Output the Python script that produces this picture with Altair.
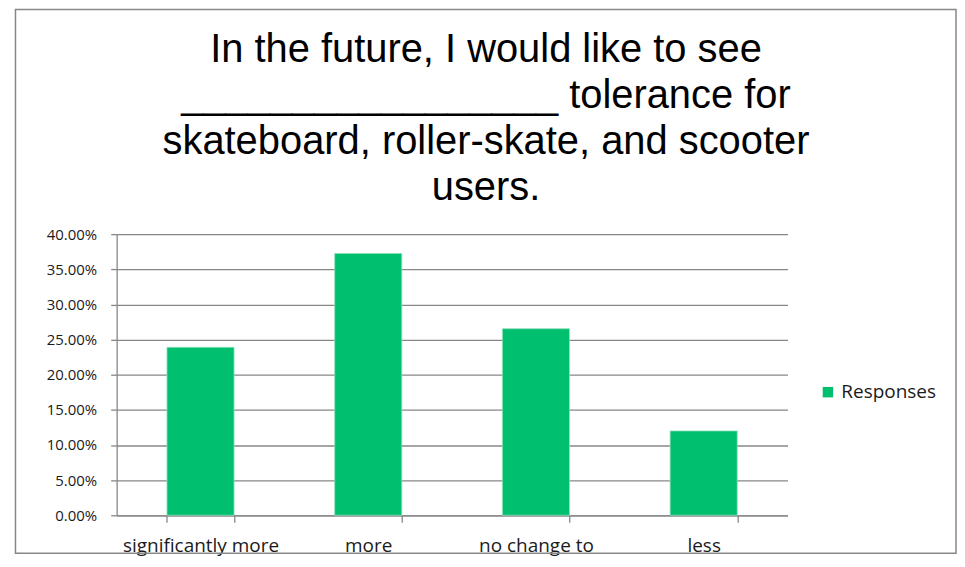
import altair as alt
import pandas as pd

categories = ["significantly more", "more", "no change to", "less"]
values = [0.239, 0.3725, 0.2655, 0.1200]
series = ["Responses"] * 4
y_ticks = [0.0, 0.05, 0.10, 0.15, 0.20, 0.25, 0.30, 0.35, 0.40]
title_lines = [
    "In the future, I would like to see",
    "_________________ tolerance for",
    "skateboard, roller-skate, and scooter",
    "users.",
]

df = pd.DataFrame({"category": categories, "value": values, "series": series})

GRID = "#878787"
LABEL_FONT = "Open Sans"

bars = alt.Chart(df).mark_bar(stroke="#8fe0bd", strokeWidth=0.8).encode(
    x=alt.X(
        "category:N",
        sort=categories,
        title=None,
        scale=alt.Scale(paddingInner=0.6, paddingOuter=0.3),
        axis=alt.Axis(
            labelAngle=0,
            tickBand="extent",
            tickSize=7,
            tickColor=GRID,
            tickWidth=1.3,
            domainColor=GRID,
            domainWidth=1.3,
            labelFont=LABEL_FONT,
            labelFontSize=19,
            labelColor="#1a1a1a",
            labelPadding=14,
            grid=False,
        ),
    ),
    y=alt.Y(
        "value:Q",
        title=None,
        scale=alt.Scale(domain=[0, 0.4], nice=False),
        axis=alt.Axis(
            format=".2%",
            values=y_ticks,
            tickSize=6,
            tickColor=GRID,
            tickWidth=1.3,
            domainColor=GRID,
            domainWidth=1.3,
            gridColor=GRID,
            gridWidth=1.3,
            labelFont=LABEL_FONT,
            labelFontSize=15,
            labelColor="#1a1a1a",
            labelPadding=14,
        ),
    ),
    color=alt.Color(
        "series:N",
        scale=alt.Scale(range=["#00BF6F"]),
        legend=alt.Legend(
            title=None,
            orient="none",
            legendX=704,
            legendY=149,
            symbolType="square",
            symbolSize=110,
            symbolStrokeWidth=0,
            labelFont=LABEL_FONT,
            labelFontSize=19,
            labelColor="#1a1a1a",
        ),
    ),
)

one = pd.DataFrame({"a": [0]})

frame = alt.Chart(one).mark_rect(
    filled=False, stroke=GRID, strokeWidth=1.5
).encode(
    x=alt.value(-101.5),
    x2=alt.value(842),
    y=alt.value(-225.5),
    y2=alt.value(320),
)

title = alt.Chart(one).mark_text(
    text=title_lines,
    font="Liberation Sans",
    fontSize=40,
    lineHeight=46,
    align="center",
    baseline="alphabetic",
    color="#000000",
).encode(
    x=alt.value(370.5),
    y=alt.value(-172.3),
)

chart = alt.layer(frame, title, bars).properties(
    width=673,
    height=282,
    autosize=alt.AutoSizeParams(type="none"),
    padding={"left": 109, "top": 226, "right": 170, "bottom": 50},
).configure_view(stroke=None)

chart.save("out.html", embed_options={"renderer": "svg", "actions": False})
